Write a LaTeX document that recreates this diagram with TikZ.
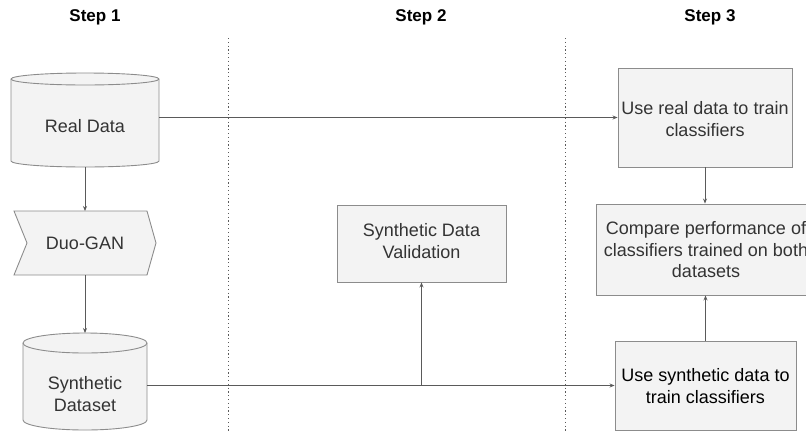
\documentclass[tikz,border=0pt]{standalone}
\usepackage{fontspec}
\setmainfont{Liberation Sans}
\usetikzlibrary{arrows.meta}
\definecolor{boxfill}{HTML}{F3F3F3}
\definecolor{boxline}{HTML}{8C8C8C}
\definecolor{txtcol}{HTML}{333333}
\definecolor{linecol}{HTML}{5A5A5A}
\tikzset{
  box/.style={draw=boxline, fill=boxfill, line width=0.9pt, text=txtcol, align=center,
    font=\fontsize{18}{21.5}\selectfont, inner sep=0pt},
  shapefill/.style={draw=boxline, fill=boxfill, line width=0.9pt},
  anchorbox/.style={inner sep=0pt, outer sep=0pt},
  lbl/.style={text=txtcol, align=center, font=\fontsize{18}{21.5}\selectfont, inner sep=0pt},
  hdr/.style={font=\bfseries\fontsize{17}{20}\selectfont, inner sep=0pt},
  arr/.style={draw=linecol, line width=0.8pt, -{Stealth[length=5pt,width=4pt]}},
  conn/.style={draw=linecol, line width=0.8pt},
  sep/.style={draw=linecol, line width=0.9pt, dash pattern=on 1.2pt off 2.6pt}
}
\begin{document}
\begin{tikzpicture}[x=1pt,y=-1pt]
\useasboundingbox (0,0) rectangle (806,432);
% headers
\node[hdr] (h1) at (95,17) {Step 1};
\node[hdr] (h2) at (421,17) {Step 2};
\node[hdr] (h3) at (710,17) {Step 3};
% separators
\draw[sep] (228,38) -- (228,432);
\draw[sep] (565,38) -- (565,432);

% Real Data cylinder
\node[anchorbox, minimum width=148pt, minimum height=94pt] (realdata) at (85,120) {};
\path[shapefill] (11,79) -- (11,161) arc[start angle=180,end angle=360,x radius=74pt,y radius=6pt]
  -- (159,79) arc[start angle=0,end angle=180,x radius=74pt,y radius=6pt] -- cycle;
\draw[draw=boxline, line width=0.9pt] (11,79) arc[start angle=180,end angle=360,x radius=74pt,y radius=6pt];
\node[lbl] (realdatalbl) at (85,126) {Real Data};

% Duo-GAN
\node[anchorbox, minimum width=142pt, minimum height=64pt] (duogan) at (85,243) {};
\path[shapefill] (14,211) -- (147,211) -- (156,243) -- (147,275) -- (14,275) -- (27,243) -- cycle;
\node[lbl] (duoganlbl) at (85,243) {Duo-GAN};

% Synthetic Dataset cylinder
\node[anchorbox, minimum width=124pt, minimum height=97pt] (synth) at (85,381.5) {};
\path[shapefill] (23,343) -- (23,420) arc[start angle=180,end angle=360,x radius=62pt,y radius=10pt]
  -- (147,343) arc[start angle=0,end angle=180,x radius=62pt,y radius=10pt] -- cycle;
\draw[draw=boxline, line width=0.9pt] (23,343) arc[start angle=180,end angle=360,x radius=62pt,y radius=10pt];
\node[lbl] (synthlbl) at (85,394) {Synthetic\\Dataset};

% Step 2 box
\node[box, minimum width=169pt, minimum height=77pt] (valid) at (421.5,243.5) {};
\node[lbl] (validlbl) at (421.5,241) {Synthetic Data\\Validation};

% Step 3 boxes
\node[box, minimum width=174pt, minimum height=99pt] (realbox) at (705,117.5) {};
\node[lbl] (realboxlbl) at (705,119) {Use real data to train\\classifiers};
\node[box, minimum width=224pt, minimum height=91pt] (compare) at (708,249.5) {};
\node[lbl] (comparelbl) at (706,250) {Compare performance of\\classifiers trained on both\\datasets};
\node[box, minimum width=181pt, minimum height=89pt] (synthbox) at (705.5,385.5) {};
\node[lbl, text=black] (synthboxlbl) at (705.5,386) {Use synthetic data to\\train classifiers};

% connectors
\draw[arr] (realdata.south) -- (duogan.north);
\draw[arr] (duogan.south) -- (synth.north);
\draw[arr] (realdata.east |- realbox.west) -- (realbox.west);
\draw[arr] (synth.east |- synthbox.west) -- (synthbox.west);
\coordinate (junction) at (valid.south |- synthbox.west);
\draw[arr] (junction) -- (valid.south);
\draw[arr] (realbox.south) -- (realbox.south |- compare.north);
\draw[arr] (synthbox.north) -- (synthbox.north |- compare.south);
\end{tikzpicture}
\end{document}
